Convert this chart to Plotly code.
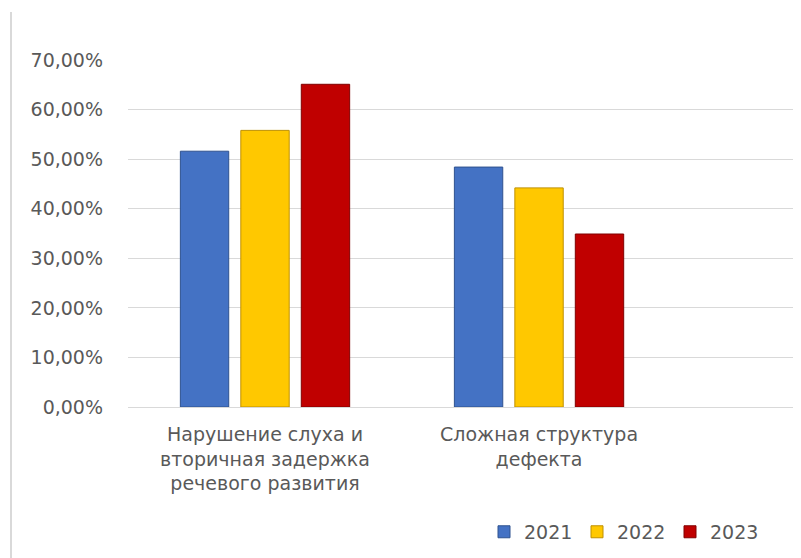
import plotly.graph_objects as go

categories = ["Нарушение слуха и<br>вторичная задержка<br>речевого развития",
              "Сложная структура<br>дефекта"]
years = ["2021", "2022", "2023"]
values_2021 = [0.516, 0.484]
values_2022 = [0.558, 0.442]
values_2023 = [0.651, 0.349]
tick_vals = [0, 0.1, 0.2, 0.3, 0.4, 0.5, 0.6, 0.7]
tick_text = ["0,00%", "10,00%", "20,00%", "30,00%", "40,00%", "50,00%", "60,00%", "70,00%"]

series = [values_2021, values_2022, values_2023]
colors = ["#4472C4", "#FFC800", "#C00000"]
edge = ["#2F528F", "#BF9000", "#800000"]

x_pos = list(range(len(categories)))

fig = go.Figure()
for name, vals, c, e in zip(years, series, colors, edge):
    fig.add_trace(go.Bar(
        x=x_pos, y=vals, name=name,
        marker=dict(color=c, line=dict(color=e, width=1)),
    ))

FONT = "DejaVu Sans"
FS = 19
L, T, W, H, B = 120, 52, 793, 550, 151
PW = W - L
PH = H - T - B
fig.update_layout(
    width=W, height=H,
    margin=dict(l=L, r=0, t=T, b=B),
    paper_bgcolor="white", plot_bgcolor="white",
    barmode="group", bargap=0.338, bargroupgap=0.2,
    font=dict(family=FONT, size=FS, color="#595959"),
    xaxis=dict(range=[-0.5, 1.956], tickvals=x_pos, ticktext=categories,
               showgrid=False, zeroline=False, showline=False,
               tickfont=dict(size=FS, color="#595959"), ticks="",
               ticklabelstandoff=14),
    yaxis=dict(range=[0, 0.7], tickvals=tick_vals, ticktext=tick_text,
               showgrid=True, gridcolor="#D9D9D9", gridwidth=1,
               zeroline=True, zerolinecolor="#D9D9D9", zerolinewidth=1,
               showline=False, ticks="", ticklabelstandoff=24,
               tickfont=dict(size=FS, color="#595959")),
    legend=dict(orientation="h", x=(476 - L) / PW, y=-0.36, xanchor="left", yanchor="middle",
                font=dict(size=FS, color="#595959"), traceorder="normal",
                entrywidth=48, entrywidthmode="pixels", bgcolor="rgba(0,0,0,0)"),
    shapes=[dict(type="line", xref="paper", yref="paper",
                 x0=(3 - L) / PW, x1=(3 - L) / PW, y0=(H - B - 4) / PH, y1=-0.5,
                 line=dict(color="#D9D9D9", width=2))],
)

fig.write_html("out.html")
